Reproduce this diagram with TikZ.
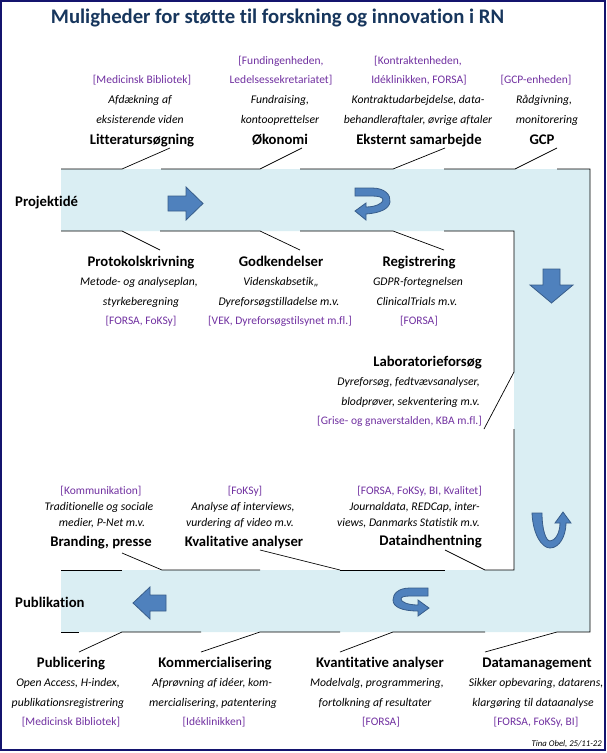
\documentclass[tikz,border=0pt]{standalone}
\usepackage{fontspec}
\setmainfont{Carlito}[Ligatures={NoCommon}]
\definecolor{bandblue}{HTML}{DAEEF3}
\definecolor{arrblue}{HTML}{4F81BD}
\definecolor{arredge}{HTML}{385D8A}
\definecolor{unitpurple}{HTML}{7030A0}
\definecolor{titleblue}{HTML}{17365D}
\definecolor{framenavy}{HTML}{14146E}
\begin{document}
\begin{tikzpicture}[x=1pt,y=-1pt,
    every node/.style={inner sep=0pt,anchor=base},
    hd/.style={font=\bfseries\fontsize{14.7}{17}\selectfont},
    ds/.style={font=\itshape\fontsize{11.7}{14}\selectfont},
    un/.style={font=\fontsize{11.5}{14}\selectfont,text=unitpurple},
    arr/.style={fill=arrblue,draw=arredge,line width=.8},
    lead/.style={line width=.7}]
\useasboundingbox (0,0) rectangle (607,753);
\draw[framenavy,line width=2] (1,1) rectangle (604.5,749.5);
\node[font=\bfseries\fontsize{20.7}{24}\selectfont,text=titleblue] (title) at (277.5,23.3) {Muligheder for støtte til forskning og innovation i RN};

\fill[bandblue] (61,169)--(590,169)--(590,632)--(61,632)--(61,570)--(514,570)--(514,231)--(61,231)--cycle;
% top edge
\draw[lead] (61,169)--(122,169)--(170,148);
\draw[lead] (161,169)--(260,169)--(302,148);
\draw[lead] (300,169)--(393,169)--(445,148);
\draw[lead] (444,169)--(515,169)--(557,148);
\draw[lead] (557,169)--(590,169)--(590,632)--(557,632)--(485,652);
% inner edge
\draw[lead] (61,231)--(122,231)--(160,250);
\draw[lead] (160,231)--(260,231)--(300,250);
\draw[lead] (300,231)--(393,231)--(444,250);
\draw[lead] (444,231)--(514,231)--(514,372)--(484,429);
\draw[lead] (514,429)--(514,570)--(485,570)--(445,550);
\draw[lead] (340,570)--(445,570);\draw[lead] (260,550)--(340,570);
\draw[lead] (122,553)--(162,570)--(260,570);
\draw[lead] (61,570)--(122,570);
% bottom edge
\draw[lead] (61,632)--(79,632);
\draw[lead] (79,652)--(122,632)--(201,632);
\draw[lead] (201,652)--(260,632)--(340,632);
\draw[lead] (340,652)--(393,632)--(485,632);

% block arrows
\draw[arr] (168,196)--(186,196)--(186,187)--(203,203.5)--(186,220)--(186,211)--(168,211)--cycle;
\draw[arr] (355,188)--(372,188) .. controls (385,188) and (391,195) .. (390,202) .. controls (389,209) and (380,213) .. (366,214)--(366,220)--(355,211)--(366,203)--(366,207) .. controls (376,207) and (383,203) .. (383,200) .. controls (383,197) and (378,196) .. (372,196)--(355,196)--cycle;
\draw[arr] (543,269)--(560,269)--(560,285)--(573,285)--(551.5,303)--(530,285)--(543,285)--cycle;
\draw[arr] (532,513) .. controls (533,535) and (542,548) .. (550,548) .. controls (560,548) and (566,535) .. (566,523)--(571,523)--(563,512)--(555,523)--(560,523) .. controls (560,533) and (555,541) .. (550,541) .. controls (546,541) and (542,530) .. (542,513)--cycle;
\draw[arr] (428,588)--(410,588) .. controls (398,588) and (393,594) .. (393,600) .. controls (393,607) and (402,611) .. (418,611)--(418,616)--(429,608)--(418,600)--(418,605) .. controls (408,605) and (401,602) .. (401,599) .. controls (401,597) and (404,596) .. (410,596)--(428,596)--cycle;
\draw[arr] (166,595)--(150,595)--(150,587)--(133,603)--(150,619)--(150,611)--(166,611)--cycle;

\node[hd,anchor=base west] (idea) at (15,206.5) {Projektidé};
\node[hd,anchor=base west] (publ) at (15,607) {Publikation};

% top row
\node[un] (litU) at (142,83.5) {[Medicinsk Bibliotek]};
\node[ds] (litA) at (140,103.5) {Afdækning af};
\node[ds] (litB) at (140,123.5) {eksisterende viden};
\node[hd] (lit) at (142,144) {Litteratursøgning};
\node[un] (okoU1) at (281,64.5) {[Fundingenheden,};
\node[un] (okoU2) at (281,83.5) {Ledelsessekretariatet]};
\node[ds] (okoA) at (280,103.5) {Fundraising,};
\node[ds] (okoB) at (280,123.5) {kontooprettelser};
\node[hd] (oko) at (280,144) {Økonomi};
\node[un] (ekstU1) at (418,64.5) {[Kontraktenheden,};
\node[un] (ekstU2) at (419,83.5) {Idéklinikken, FORSA]};
\node[ds] (ekstA) at (418,103.5) {Kontraktudarbejdelse, data-};
\node[ds] (ekstB) at (418,123.5) {behandleraftaler, øvrige aftaler};
\node[hd] (ekst) at (419,144) {Eksternt samarbejde};
\node[un] (gcpU) at (536,83.5) {[GCP-enheden]};
\node[ds] (gcpA) at (544,103.5) {Rådgivning,};
\node[ds] (gcpB) at (547,123.5) {monitorering};
\node[hd] (gcp) at (542,144) {GCP};

% below top band
\node[hd] (prot) at (141,266) {Protokolskrivning};
\node[ds] (protA) at (139,285.5) {Metode- og analyseplan,};
\node[ds] (protB) at (141,305.5) {styrkeberegning};
\node[un] (protU) at (141,324.5) {[FORSA, FoKSy]};
\node[hd] (godk) at (281,266) {Godkendelser};
\node[ds] (godkA) at (281,285.5) {Videnskabsetik,,};
\node[ds] (godkB) at (279,305.5) {Dyreforsøgstilladelse m.v.};
\node[un] (godkU) at (280,324.5) {[VEK, Dyreforsøgstilsynet m.fl.]};
\node[hd] (reg) at (419,266) {Registrering};
\node[ds] (regA) at (418,285.5) {GDPR-fortegnelsen};
\node[ds] (regB) at (417,305.5) {ClinicalTrials m.v.};
\node[un] (regU) at (419,324.5) {[FORSA]};

\node[hd,anchor=base east] (lab) at (482,366) {Laboratorieforsøg};
\node[ds,anchor=base east] (labA) at (480,385.5) {Dyreforsøg, fedtvævsanalyser,};
\node[ds,anchor=base east] (labB) at (480,405.5) {blodprøver, sekventering m.v.};
\node[un,anchor=base east] (labU) at (482,424.5) {[Grise- og gnaverstalden, KBA m.fl.]};

% above bottom band
\node[un,anchor=base east] (datU) at (482,494.5) {[FORSA, FoKSy, BI, Kvalitet]};
\node[ds,anchor=base east] (datA) at (480,510.5) {Journaldata, REDCap, inter-};
\node[ds,anchor=base east] (datB) at (480,526.5) {views, Danmarks Statistik m.v.};
\node[hd,anchor=base east] (dat) at (482,545) {Dataindhentning};
\node[un] (brU) at (101,494.5) {[Kommunikation]};
\node[ds] (brA) at (99,510.5) {Traditionelle og sociale};
\node[ds] (brB) at (102,526.5) {medier, P-Net m.v.};
\node[hd] (br) at (101,546) {Branding, presse};
\node[un] (kvalU) at (245,494.5) {[FoKSy]};
\node[ds] (kvalA) at (243,510.5) {Analyse af interviews,};
\node[ds] (kvalB) at (240,526.5) {vurdering af video m.v.};
\node[hd] (kval) at (244,546) {Kvalitative analyser};

% bottom row
\node[hd] (pub) at (71,667) {Publicering};
\node[ds] (pubA) at (68,686.5) {Open Access, H-index,};
\node[ds] (pubB) at (68,706.5) {publikationsregistrering};
\node[un] (pubU) at (71,725.5) {[Medicinsk Bibliotek]};
\node[hd] (kom) at (215,667) {Kommercialisering};
\node[ds] (komA) at (212,686.5) {Afprøvning af idéer, kom-};
\node[ds] (komB) at (213,706.5) {mercialisering, patentering};
\node[un] (komU) at (214,725.5) {[Idéklinikken]};
\node[hd] (kvan) at (380,667) {Kvantitative analyser};
\node[ds] (kvanA) at (377,686.5) {Modelvalg, programmering,};
\node[ds] (kvanB) at (375,706.5) {fortolkning af resultater};
\node[un] (kvanU) at (381,725.5) {[FORSA]};
\node[hd] (dm) at (537,667) {Datamanagement};
\node[ds] (dmA) at (536,686.5) {Sikker opbevaring, datarens,};
\node[ds] (dmB) at (533,706.5) {klargøring til dataanalyse};
\node[un] (dmU) at (536,725.5) {[FORSA, FoKSy, BI]};

\node[font=\itshape\fontsize{8.7}{10}\selectfont,anchor=base east] (sign) at (602,746.5) {Tina Obel, 25/11-22};
\end{tikzpicture}
\end{document}
